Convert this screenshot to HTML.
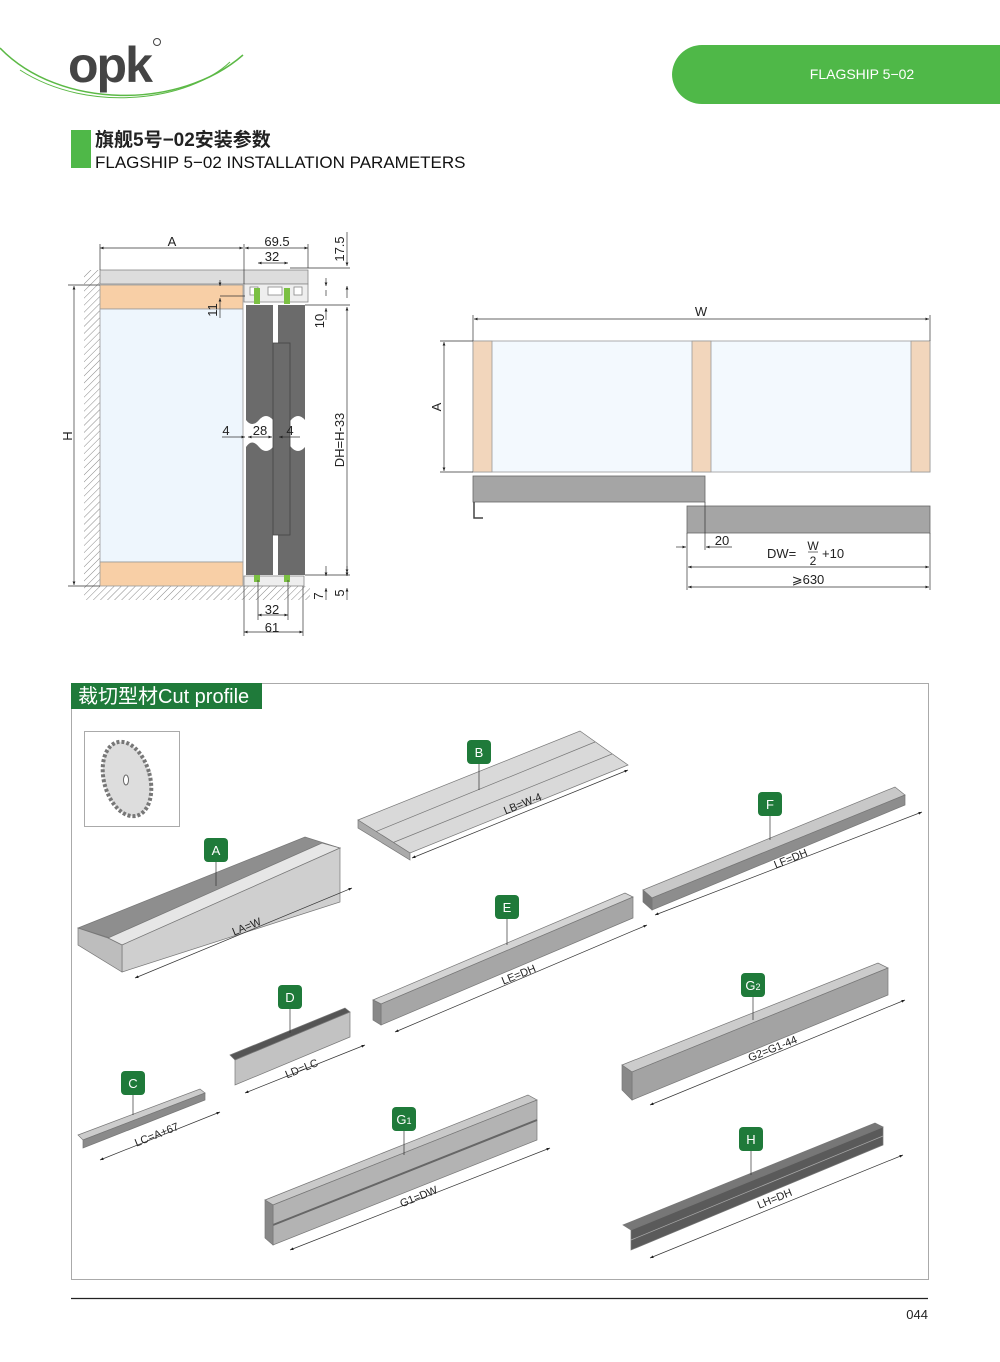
<!DOCTYPE html>
<html><head><meta charset="utf-8"><style>
html,body{margin:0;padding:0;background:#fff;}
body{width:1000px;height:1357px;overflow:hidden;font-family:"Liberation Sans","Noto Sans CJK SC",sans-serif;}
svg text{font-family:"Liberation Sans","Noto Sans CJK SC",sans-serif;}
</style></head><body>
<svg width="1000" height="1357" viewBox="0 0 1000 1357" xmlns="http://www.w3.org/2000/svg">
<defs>
<marker id="ar" viewBox="0 0 10 10" refX="10" refY="5" markerWidth="7" markerHeight="5" orient="auto-start-reverse"><path d="M0,1 L10,5 L0,9 z" fill="#222"/></marker>
<pattern id="hat" width="5" height="5" patternUnits="userSpaceOnUse" patternTransform="rotate(45)"><rect width="5" height="5" fill="#fff"/><line x1="0" y1="0" x2="0" y2="5" stroke="#888" stroke-width="1"/></pattern>
</defs>
<!-- header -->
<path d="M0,48 C60,110 180,110 243,55" fill="none" stroke="#5cb946" stroke-width="1.5"/>
<path d="M20,70 C90,115 190,100 230,62" fill="none" stroke="#5cb946" stroke-width="1"/>
<text x="68" y="82" font-size="50" font-weight="bold" fill="#444" letter-spacing="-2">opk</text>
<circle cx="157" cy="42" r="3.5" fill="none" stroke="#444" stroke-width="1"/>
<path d="M672,75 a30,30 0 0 1 30,-30 H1000 V104 H702 a30,30 0 0 1 -30,-30z" fill="#4fb848"/>
<text x="862" y="79" font-size="14" fill="#fff" text-anchor="middle">FLAGSHIP 5−02</text>
<rect x="71" y="130" width="20" height="38" fill="#4fb848"/>
<text x="95" y="146" font-size="19" font-weight="bold" fill="#222">旗舰5号−02安装参数</text>
<text x="95" y="168" font-size="17" fill="#111">FLAGSHIP 5−02 INSTALLATION PARAMETERS</text>

<!-- left drawing -->
<g stroke-width="0.8">
<rect x="84" y="270" width="16" height="330" fill="url(#hat)"/>
<rect x="84" y="586" width="226" height="14" fill="url(#hat)"/>
<rect x="100" y="270" width="208" height="14" fill="#ddd" stroke="#888"/>
<rect x="100" y="285" width="143" height="24" fill="#f8cfa6" stroke="#999"/>
<rect x="100" y="309" width="143" height="253" fill="#eef6fd" stroke="#999"/>
<rect x="100" y="562" width="143" height="24" fill="#f8cfa6" stroke="#999"/>
<rect x="244" y="284" width="64" height="18" fill="#eee" stroke="#888"/>
<rect x="250" y="287" width="8" height="8" fill="#fff" stroke="#888"/><rect x="294" y="287" width="8" height="8" fill="#fff" stroke="#888"/><rect x="268" y="287" width="14" height="8" fill="#fff" stroke="#888"/>
<rect x="254" y="288" width="6" height="16" fill="#7bc043"/><rect x="284" y="288" width="6" height="16" fill="#7bc043"/>
<rect x="244" y="576" width="60" height="10" fill="#eee" stroke="#888"/>
<rect x="254" y="573" width="6" height="9" fill="#7bc043"/><rect x="284" y="573" width="6" height="9" fill="#7bc043"/>
<path d="M246,305 H273 V420 Q266,412 259,420 Q252,428 246,420z" fill="#6b6b6b"/>
<path d="M246,447 Q252,438 259,447 Q266,455 273,447 V575 H246z" fill="#6b6b6b"/>
<path d="M278,305 H305 V420 Q298,412 291,420 Q284,428 278,420z" fill="#6b6b6b"/>
<path d="M278,447 Q284,438 291,447 Q298,455 305,447 V575 H278z" fill="#6b6b6b"/>
<rect x="273" y="343" width="17" height="192" fill="#6b6b6b" stroke="#444"/>
</g>
<g stroke="#333" stroke-width="0.7" fill="none">
<line x1="100" y1="248" x2="243" y2="248" marker-start="url(#ar)" marker-end="url(#ar)"/>
<line x1="245" y1="248" x2="308" y2="248" marker-start="url(#ar)" marker-end="url(#ar)"/>
<line x1="258" y1="263" x2="288" y2="263" marker-start="url(#ar)" marker-end="url(#ar)"/>
<line x1="100" y1="244" x2="100" y2="270"/><line x1="244" y1="244" x2="244" y2="284"/><line x1="308" y1="244" x2="308" y2="268"/>
<line x1="74" y1="286" x2="74" y2="585" marker-start="url(#ar)" marker-end="url(#ar)"/>
<line x1="68" y1="285" x2="100" y2="285"/><line x1="68" y1="586" x2="100" y2="586"/>
<line x1="347" y1="307" x2="347" y2="573" marker-start="url(#ar)" marker-end="url(#ar)"/>
<line x1="305" y1="305" x2="350" y2="305"/><line x1="305" y1="575" x2="350" y2="575"/>
<line x1="290" y1="268" x2="350" y2="268"/>
<line x1="347" y1="232" x2="347" y2="266" marker-end="url(#ar)"/>
<line x1="347" y1="298" x2="347" y2="286" marker-end="url(#ar)"/>
<line x1="326" y1="290" x2="326" y2="296" /><line x1="326" y1="278" x2="326" y2="286" marker-end="url(#ar)"/><line x1="326" y1="320" x2="326" y2="308" marker-end="url(#ar)"/>
<line x1="220" y1="280" x2="220" y2="286" marker-end="url(#ar)"/><line x1="220" y1="318" x2="220" y2="298" marker-end="url(#ar)"/><line x1="220" y1="296" x2="245" y2="296"/>
<line x1="222" y1="437" x2="245" y2="437" marker-end="url(#ar)"/><line x1="248" y1="437" x2="272" y2="437" marker-start="url(#ar)" marker-end="url(#ar)"/><line x1="300" y1="437" x2="279" y2="437" marker-end="url(#ar)"/>
<line x1="258" y1="615" x2="288" y2="615" marker-start="url(#ar)" marker-end="url(#ar)"/>
<line x1="244" y1="632" x2="303" y2="632" marker-start="url(#ar)" marker-end="url(#ar)"/>
<line x1="244" y1="586" x2="244" y2="636"/><line x1="303" y1="586" x2="303" y2="636"/><line x1="258" y1="580" x2="258" y2="620"/><line x1="288" y1="580" x2="288" y2="620"/>
<line x1="326" y1="566" x2="326" y2="576" marker-end="url(#ar)"/><line x1="326" y1="600" x2="326" y2="588" marker-end="url(#ar)"/>
<line x1="347" y1="566" x2="347" y2="576" marker-end="url(#ar)"/><line x1="347" y1="600" x2="347" y2="588" marker-end="url(#ar)"/>
</g>
<g font-size="13" fill="#222">
<text x="172" y="246" text-anchor="middle">A</text><text x="277" y="246" text-anchor="middle">69.5</text><text x="272" y="261" text-anchor="middle">32</text>
<text x="226" y="435" text-anchor="middle">4</text><text x="260" y="435" text-anchor="middle">28</text><text x="290" y="435" text-anchor="middle">4</text>
<text x="272" y="614" text-anchor="middle">32</text><text x="272" y="632" text-anchor="middle">61</text>
<text transform="translate(344,249) rotate(-90)" text-anchor="middle">17.5</text>
<text transform="translate(324,321) rotate(-90)" text-anchor="middle">10</text>
<text transform="translate(217,310) rotate(-90)" text-anchor="middle">11</text>
<text transform="translate(344,440) rotate(-90)" text-anchor="middle">DH=H-33</text>
<text transform="translate(72,436) rotate(-90)" text-anchor="middle">H</text>
<text transform="translate(323,596) rotate(-90)" text-anchor="middle">7</text>
<text transform="translate(344,593) rotate(-90)" text-anchor="middle">5</text>
</g>

<!-- right drawing -->
<g stroke="#999" stroke-width="0.8">
<rect x="473" y="341" width="457" height="131" fill="#f3f9fe"/>
<rect x="473" y="341" width="19" height="131" fill="#f2d6bc"/>
<rect x="692" y="341" width="19" height="131" fill="#f2d6bc"/>
<rect x="911" y="341" width="19" height="131" fill="#f2d6bc"/>
<rect x="473" y="476" width="232" height="26" fill="#a5a5a5" stroke="#666"/>
<rect x="687" y="506" width="243" height="27" fill="#a5a5a5" stroke="#666"/>
</g>
<path d="M474,502 V518 H483" fill="none" stroke="#444" stroke-width="1.5"/>
<g stroke="#333" stroke-width="0.7" fill="none">
<line x1="474" y1="319" x2="929" y2="319" marker-start="url(#ar)" marker-end="url(#ar)"/>
<line x1="473" y1="315" x2="473" y2="341"/><line x1="930" y1="315" x2="930" y2="341"/>
<line x1="444" y1="342" x2="444" y2="471" marker-start="url(#ar)" marker-end="url(#ar)"/>
<line x1="440" y1="341" x2="473" y2="341"/><line x1="440" y1="472" x2="473" y2="472"/>
<line x1="676" y1="547" x2="686" y2="547" marker-end="url(#ar)"/><line x1="732" y1="547" x2="706" y2="547" marker-end="url(#ar)"/>
<line x1="687" y1="533" x2="687" y2="590"/><line x1="705" y1="502" x2="705" y2="550"/><line x1="930" y1="533" x2="930" y2="590"/>
<line x1="688" y1="567" x2="929" y2="567" marker-start="url(#ar)" marker-end="url(#ar)"/>
<line x1="688" y1="587" x2="929" y2="587" marker-start="url(#ar)" marker-end="url(#ar)"/>
<line x1="808" y1="552" x2="818" y2="552"/>
</g>
<g font-size="13" fill="#222">
<text x="701" y="316" text-anchor="middle">W</text>
<text transform="translate(441,407) rotate(-90)" text-anchor="middle">A</text>
<text x="722" y="545" text-anchor="middle">20</text>
<text x="767" y="558">DW=</text><text x="813" y="550" text-anchor="middle" font-size="12">W</text><text x="813" y="565" text-anchor="middle" font-size="12">2</text><text x="822" y="558">+10</text>
<text x="808" y="584" text-anchor="middle">⩾630</text>
</g>

<!-- section -->
<rect x="71.5" y="683.5" width="857" height="596" fill="none" stroke="#aaa"/>
<rect x="71" y="683" width="191" height="26" fill="#1f7a3a"/>
<text x="78" y="703" font-size="20" fill="#fff">裁切型材Cut profile</text>
<rect x="84.5" y="731.5" width="95" height="95" fill="#fff" stroke="#aaa"/>
<ellipse cx="127" cy="779" rx="23" ry="38" transform="rotate(-15 127 779)" fill="#ddd" stroke="#777" stroke-width="4" stroke-dasharray="3 2"/>
<ellipse cx="127" cy="779" rx="19" ry="33" transform="rotate(-15 127 779)" fill="#ddd"/>
<ellipse cx="126" cy="780" rx="2.5" ry="5" fill="#fff" stroke="#666"/>

<g stroke="#777" stroke-width="0.7">
<!-- A -->
<polygon points="78,928 305,837 340,848 110,938" fill="#8e8e8e"/>
<polygon points="108,938 322,843 340,848 122,945" fill="#e6e6e6"/>
<polygon points="122,945 340,848 340,902 122,972" fill="#cfcfcf"/>
<polygon points="78,928 108,938 122,945 122,972 78,945" fill="#bdbdbd"/>
<!-- B -->
<polygon points="358,820 580,731 628,765 410,853" fill="#d9d9d9"/>
<line x1="375" y1="832" x2="595" y2="742"/><line x1="392" y1="843" x2="612" y2="754"/>
<polygon points="358,820 410,853 410,860 358,828" fill="#aaa"/>
<!-- F -->
<polygon points="643,890 895,787 905,795 652,898" fill="#c8c8c8"/>
<polygon points="652,898 905,795 905,805 652,910" fill="#8d8d8d"/>
<polygon points="643,890 652,898 652,910 643,902" fill="#777"/>
<!-- E -->
<polygon points="373,1000 625,893 633,897 381,1004" fill="#d4d4d4"/>
<polygon points="381,1004 633,897 633,918 381,1025" fill="#a6a6a6"/>
<polygon points="373,1000 381,1004 381,1025 373,1020" fill="#888"/>
<!-- D -->
<polygon points="230,1055 345,1008 350,1012 235,1060" fill="#555"/>
<polygon points="235,1060 350,1012 350,1037 235,1085" fill="#c2c2c2"/>
<!-- G2 -->
<polygon points="622,1065 878,963 888,968 632,1072" fill="#ccc"/>
<polygon points="632,1072 888,968 888,995 632,1100" fill="#a3a3a3"/>
<polygon points="622,1065 632,1072 632,1100 622,1090" fill="#888"/>
<!-- C -->
<polygon points="78,1135 200,1089 205,1093 83,1140" fill="#ccc"/>
<polygon points="83,1140 205,1093 205,1100 83,1148" fill="#8a8a8a"/>
<!-- G1 -->
<polygon points="265,1200 528,1095 537,1100 273,1205" fill="#c9c9c9"/>
<polygon points="273,1205 537,1100 537,1140 273,1245" fill="#b3b3b3"/>
<line x1="273" y1="1225" x2="537" y2="1120" stroke="#666" stroke-width="2"/>
<polygon points="265,1200 273,1205 273,1245 265,1238" fill="#888"/>
<!-- H -->
<polygon points="623,1225 875,1123 883,1127 631,1230" fill="#777"/>
<polygon points="631,1230 883,1127 883,1145 631,1250" fill="#5a5a5a"/>
<line x1="631" y1="1240" x2="883" y2="1136" stroke="#aaa"/>
</g>
<g stroke="#333" stroke-width="0.7">
<line x1="135" y1="978" x2="352" y2="888" marker-start="url(#ar)" marker-end="url(#ar)"/>
<line x1="412" y1="858" x2="628" y2="770" marker-start="url(#ar)" marker-end="url(#ar)"/>
<line x1="655" y1="915" x2="922" y2="812" marker-start="url(#ar)" marker-end="url(#ar)"/>
<line x1="395" y1="1032" x2="647" y2="925" marker-start="url(#ar)" marker-end="url(#ar)"/>
<line x1="245" y1="1093" x2="365" y2="1045" marker-start="url(#ar)" marker-end="url(#ar)"/>
<line x1="650" y1="1105" x2="905" y2="1000" marker-start="url(#ar)" marker-end="url(#ar)"/>
<line x1="100" y1="1160" x2="220" y2="1112" marker-start="url(#ar)" marker-end="url(#ar)"/>
<line x1="290" y1="1250" x2="550" y2="1148" marker-start="url(#ar)" marker-end="url(#ar)"/>
<line x1="650" y1="1258" x2="903" y2="1155" marker-start="url(#ar)" marker-end="url(#ar)"/>
<line x1="216" y1="860" x2="216" y2="886"/><line x1="479" y1="760" x2="479" y2="790"/><line x1="770" y1="812" x2="770" y2="840"/>
<line x1="507" y1="915" x2="507" y2="945"/><line x1="290" y1="1005" x2="290" y2="1033"/><line x1="753" y1="993" x2="753" y2="1020"/>
<line x1="133" y1="1091" x2="133" y2="1115"/><line x1="404" y1="1127" x2="404" y2="1155"/><line x1="751" y1="1147" x2="751" y2="1175"/>
</g>
<g font-size="11" fill="#222" text-anchor="middle">
<text transform="translate(248,930) rotate(-22)">LA=W</text>
<text transform="translate(524,807) rotate(-22)">LB=W-4</text>
<text transform="translate(792,862) rotate(-22)">LF=DH</text>
<text transform="translate(520,978) rotate(-22)">LE=DH</text>
<text transform="translate(303,1072) rotate(-22)">LD=LC</text>
<text transform="translate(774,1052) rotate(-22)">G2=G1-44</text>
<text transform="translate(158,1138) rotate(-22)">LC=A+67</text>
<text transform="translate(420,1200) rotate(-22)">G1=DW</text>
<text transform="translate(776,1202) rotate(-22)">LH=DH</text>
</g>
<g fill="#1f7a3a">
<rect x="204" y="838" width="24" height="24" rx="4"/><rect x="467" y="740" width="24" height="24" rx="4"/><rect x="758" y="792" width="24" height="24" rx="4"/>
<rect x="495" y="895" width="24" height="24" rx="4"/><rect x="278" y="985" width="24" height="24" rx="4"/><rect x="741" y="973" width="24" height="24" rx="4"/>
<rect x="121" y="1071" width="24" height="24" rx="4"/><rect x="392" y="1107" width="24" height="24" rx="4"/><rect x="739" y="1127" width="24" height="24" rx="4"/>
</g>
<g fill="#fff" font-size="13" text-anchor="middle">
<text x="216" y="855">A</text><text x="479" y="757">B</text><text x="770" y="809">F</text>
<text x="507" y="912">E</text><text x="290" y="1002">D</text><text x="753" y="990">G<tspan font-size="9">2</tspan></text>
<text x="133" y="1088">C</text><text x="404" y="1124">G<tspan font-size="9">1</tspan></text><text x="751" y="1144">H</text>
</g>

<line x1="71" y1="1298.5" x2="928" y2="1298.5" stroke="#222" stroke-width="1.2"/>
<text x="928" y="1319" font-size="13" fill="#222" text-anchor="end">044</text>
</svg>
</body></html>
